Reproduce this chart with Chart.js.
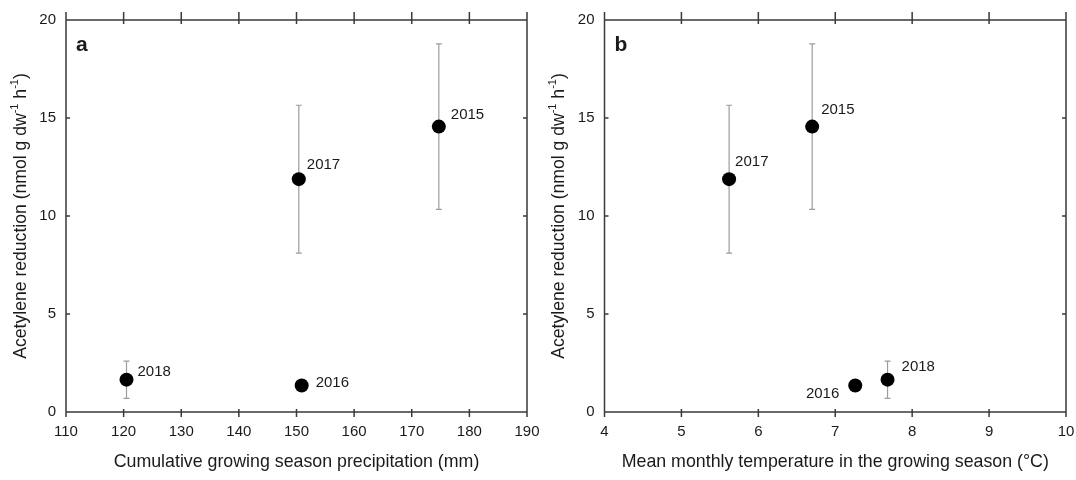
<!DOCTYPE html>
<html>
<head>
<meta charset="utf-8">
<script src="https://cdn.jsdelivr.net/npm/chart.js@4.4.0/dist/chart.umd.min.js"></script>
<style>
  html, body { margin: 0; padding: 0; background: #fff; }
  #wrap { position: relative; width: 1076px; height: 480px; }
  canvas { position: absolute; top: 0; }
</style>
</head>
<body>
<div id="wrap">
  <canvas id="chartA" width="540" height="480" style="left:0"></canvas>
  <canvas id="chartB" width="536" height="480" style="left:540px"></canvas>
</div>
<script>
// Field season values, one entry per year
const years = ['2015', '2016', '2017', '2018'];
const precipitation = [174.7, 150.9, 150.4, 120.5];   // mm
const temperature = [6.70, 7.26, 5.62, 7.68];         // °C
const acetylene = [14.56, 1.35, 11.88, 1.65];          // nmol g dw-1 h-1
const acetyleneErr = [4.22, 0, 3.77, 0.95];

const yTicks = [0, 5, 10, 15, 20];
const precipTicks = [110, 120, 130, 140, 150, 160, 170, 180, 190];
const tempTicks = [4, 5, 6, 7, 8, 9, 10];

const FONT = "'Liberation Sans', Arial, sans-serif";
const INK = '#1a1a1a';
const SPINE = '#3a3a3a';

// Error bars, frame with mirrored ticks, year labels, panel letter and y title
const framePlugin = {
    id: 'frame',
    beforeDatasetsDraw(chart) {
        const ctx = chart.ctx;
        const xs = chart.scales.x, ys = chart.scales.y;
        const ds = chart.data.datasets[0];
        ctx.save();
        ctx.strokeStyle = '#9c9c9c';
        ctx.lineWidth = 1.2;
        ds.data.forEach((p, i) => {
            const e = ds.yErr[i];
            if (!e) return;
            const px = xs.getPixelForValue(p.x);
            const hi = ys.getPixelForValue(p.y + e);
            const lo = ys.getPixelForValue(p.y - e);
            ctx.beginPath();
            ctx.moveTo(px, hi); ctx.lineTo(px, lo);
            ctx.moveTo(px - 3, hi); ctx.lineTo(px + 3, hi);
            ctx.moveTo(px - 3, lo); ctx.lineTo(px + 3, lo);
            ctx.stroke();
        });
        ctx.restore();
    },
    afterDraw(chart, args, opts) {
        const ctx = chart.ctx;
        const {left, right, top, bottom} = chart.chartArea;
        const xs = chart.scales.x, ys = chart.scales.y;
        const ds = chart.data.datasets[0];

        ctx.save();
        ctx.strokeStyle = SPINE;
        ctx.lineWidth = 1.5;
        ctx.beginPath();
        ctx.moveTo(left, top - 8); ctx.lineTo(left, bottom);
        ctx.moveTo(right, top - 8); ctx.lineTo(right, bottom);
        ctx.moveTo(left, top); ctx.lineTo(right, top);
        ctx.moveTo(left, bottom); ctx.lineTo(right, bottom);
        xs.ticks.forEach(t => {
            const px = xs.getPixelForValue(t.value);
            ctx.moveTo(px, top - 8); ctx.lineTo(px, top + 4);
            ctx.moveTo(px, bottom - 3); ctx.lineTo(px, bottom + 5);
        });
        ys.ticks.forEach(t => {
            const py = ys.getPixelForValue(t.value);
            ctx.moveTo(left, py); ctx.lineTo(left + 4, py);
            ctx.moveTo(right - 4, py); ctx.lineTo(right, py);
        });
        ctx.stroke();

        // year labels beside each point
        ctx.fillStyle = INK;
        ctx.font = '15px ' + FONT;
        ctx.textBaseline = 'middle';
        ds.data.forEach((p, i) => {
            const o = opts.offsets[i];
            ctx.textAlign = o.align || 'left';
            ctx.fillText(years[i], xs.getPixelForValue(p.x) + o.dx, ys.getPixelForValue(p.y) + o.dy);
        });

        // panel letter
        ctx.font = 'bold 21px ' + FONT;
        ctx.textAlign = 'left';
        ctx.textBaseline = 'alphabetic';
        ctx.fillText(opts.letter, left + 10, top + 31);

        // y axis title with superscripts
        const parts = [
            ['Acetylene reduction (nmol g dw', false],
            ['-1', true],
            [' h', false],
            ['-1', true],
            [')', false]
        ];
        const big = '17.6px ' + FONT, small = '11px ' + FONT;
        let total = 0;
        parts.forEach(([s, sup]) => { ctx.font = sup ? small : big; total += ctx.measureText(s).width; });
        ctx.translate(opts.yTitleX, (top + bottom) / 2);
        ctx.rotate(-Math.PI / 2);
        ctx.textBaseline = 'middle';
        let x = -total / 2;
        parts.forEach(([s, sup]) => {
            ctx.font = sup ? small : big;
            ctx.fillText(s, x, sup ? -6 : 0);
            x += ctx.measureText(s).width;
        });
        ctx.restore();
    }
};

function makePanel(canvasId, xValues, xTicks, xMin, xMax, xTitle, panel) {
    const points = xValues.map((v, i) => ({x: v, y: acetylene[i]}));
    return new Chart(document.getElementById(canvasId), {
        type: 'scatter',
        data: {
            datasets: [{
                data: points,
                yErr: acetyleneErr,
                pointRadius: 7,
                pointHoverRadius: 7,
                backgroundColor: '#000',
                borderWidth: 0
            }]
        },
        options: {
            responsive: false,
            animation: false,
            events: [],
            layout: { padding: { top: 20, right: panel.padRight, bottom: 0, left: 0 } },
            scales: {
                x: {
                    type: 'linear',
                    min: xMin,
                    max: xMax,
                    afterBuildTicks: s => { s.ticks = xTicks.map(v => ({value: v})); },
                    afterFit: s => {
                        s.height = 68;
                        s.paddingLeft = 0;
                        s.paddingRight = 0;
                    },
                    grid: { display: false, drawTicks: false },
                    border: { display: false },
                    ticks: { color: INK, font: { family: FONT, size: 15 }, padding: 11, maxRotation: 0 },
                    title: {
                        display: true,
                        text: xTitle,
                        color: INK,
                        font: { family: FONT, size: 17.8 },
                        padding: { top: 0, bottom: 7.6 }
                    }
                },
                y: {
                    type: 'linear',
                    min: 0,
                    max: 20,
                    afterBuildTicks: s => { s.ticks = yTicks.map(v => ({value: v})); },
                    afterFit: s => {
                        s.width = panel.yWidth;
                        s.paddingTop = 0;
                        s.paddingBottom = 0;
                    },
                    grid: { display: false, drawTicks: false },
                    border: { display: false },
                    ticks: { color: INK, font: { family: FONT, size: 15 }, padding: 10 }
                }
            },
            plugins: {
                legend: { display: false },
                tooltip: { enabled: false },
                frame: {
                    letter: panel.letter,
                    yTitleX: panel.yTitleX,
                    offsets: panel.offsets
                }
            }
        },
        plugins: [framePlugin]
    });
}

// label offsets follow the order of `years`
makePanel('chartA', precipitation, precipTicks, 110, 190,
    'Cumulative growing season precipitation (mm)', {
        letter: 'a', yWidth: 66, padRight: 13, yTitleX: 20.7,
        offsets: [
            {dx: 12, dy: -12},
            {dx: 14, dy: -3},
            {dx: 8, dy: -14},
            {dx: 11, dy: -8}
        ]
    });

makePanel('chartB', temperature, tempTicks, 4, 10,
    'Mean monthly temperature in the growing season (°C)', {
        letter: 'b', yWidth: 64.5, padRight: 10, yTitleX: 19,
        offsets: [
            {dx: 9, dy: -17},
            {dx: -16, dy: 8, align: 'right'},
            {dx: 6, dy: -17},
            {dx: 14, dy: -13}
        ]
    });
</script>
</body>
</html>
